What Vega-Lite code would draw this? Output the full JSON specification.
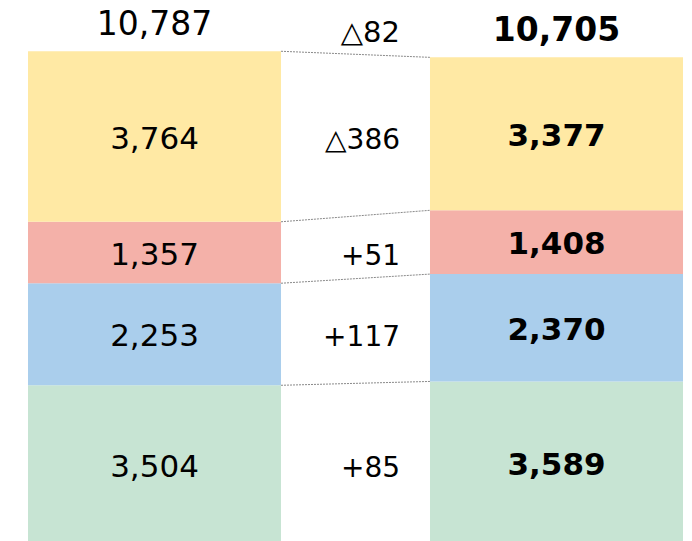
{
  "$schema": "https://vega.github.io/schema/vega-lite/v6.json",
  "width": 692,
  "height": 544,
  "autosize": {"type": "none"},
  "padding": 0,
  "background": "white",
  "config": {"view": {"stroke": null}, "font": "DejaVu Sans"},
  "datasets": {
    "segs": [
      {"period": "before", "seg": "green", "ord": 1, "value": 3504, "delta": "+85"},
      {"period": "before", "seg": "blue", "ord": 2, "value": 2253, "delta": "+117"},
      {"period": "before", "seg": "red", "ord": 3, "value": 1357, "delta": "+51"},
      {"period": "before", "seg": "yellow", "ord": 4, "value": 3764, "delta": "△386"},
      {"period": "after", "seg": "green", "ord": 1, "value": 3589},
      {"period": "after", "seg": "blue", "ord": 2, "value": 2370},
      {"period": "after", "seg": "red", "ord": 3, "value": 1408},
      {"period": "after", "seg": "yellow", "ord": 4, "value": 3377}
    ],
    "totals": [
      {"period": "before", "total": 10787, "tdelta": "△82"},
      {"period": "after", "total": 10705, "tdelta": ""}
    ]
  },
  "layer": [
    {
      "data": {"name": "segs"},
      "mark": {"type": "bar"},
      "encoding": {
        "x": {"field": "period", "type": "nominal", "sort": ["before", "after"], "axis": null,
              "scale": {"type": "band", "domain": ["before", "after"], "paddingInner": 0.3706, "paddingOuter": 0.046, "align": 0.757}},
        "y": {"field": "value", "type": "quantitative", "stack": "zero", "axis": null,
              "scale": {"domain": [0, 12010], "nice": false, "zero": true}},
        "order": {"field": "ord", "type": "quantitative", "sort": "ascending"},
        "color": {"field": "seg", "type": "nominal", "legend": null,
                  "scale": {"domain": ["green", "blue", "red", "yellow"], "range": ["#C7E4D3", "#AACEEC", "#F4B1A9", "#FFE9A4"]}}
      }
    },
    {
      "data": {"name": "segs"},
      "transform": [
        {"stack": "value", "groupby": ["period"], "sort": [{"field": "ord", "order": "ascending"}], "as": ["v0", "v1"]},
        {"pivot": "period", "value": "v1", "groupby": ["seg"]}
      ],
      "mark": {"type": "rule", "color": "#8a8a8a", "strokeWidth": 1, "strokeDash": [2, 1]},
      "encoding": {
        "x": {"datum": "before", "type": "nominal", "bandPosition": 1},
        "x2": {"datum": "after", "bandPosition": 0},
        "y": {"field": "before", "type": "quantitative"},
        "y2": {"field": "after"}
      }
    },
    {
      "data": {"name": "segs"},
      "transform": [{"filter": "datum.period === 'before'"}],
      "mark": {"type": "text", "fontSize": 31, "fontWeight": "normal", "baseline": "middle", "align": "center", "dy": 3, "color": "#000"},
      "encoding": {
        "x": {"field": "period", "type": "nominal"},
        "y": {"field": "value", "type": "quantitative", "stack": "zero", "bandPosition": 0.5},
        "order": {"field": "ord", "type": "quantitative", "sort": "ascending"},
        "text": {"field": "value", "type": "quantitative", "format": ",d"}
      }
    },
    {
      "data": {"name": "segs"},
      "transform": [{"filter": "datum.period === 'after'"}],
      "mark": {"type": "text", "fontSize": 31, "fontWeight": "bold", "baseline": "middle", "align": "center", "dy": 3, "color": "#000"},
      "encoding": {
        "x": {"field": "period", "type": "nominal"},
        "y": {"field": "value", "type": "quantitative", "stack": "zero", "bandPosition": 0.5},
        "order": {"field": "ord", "type": "quantitative", "sort": "ascending"},
        "text": {"field": "value", "type": "quantitative", "format": ",d"}
      }
    },
    {
      "data": {"name": "segs"},
      "transform": [{"filter": "datum.period === 'before'"}],
      "mark": {"type": "text", "fontSize": 28, "baseline": "middle", "align": "right", "dx": 119, "dy": 4, "color": "#000"},
      "encoding": {
        "x": {"field": "period", "type": "nominal", "bandPosition": 1},
        "y": {"field": "value", "type": "quantitative", "stack": "zero", "bandPosition": 0.5},
        "order": {"field": "ord", "type": "quantitative", "sort": "ascending"},
        "text": {"field": "delta", "type": "nominal"}
      }
    },
    {
      "data": {"name": "segs"},
      "transform": [
        {"stack": "value", "groupby": ["period"], "sort": [{"field": "ord", "order": "ascending"}], "as": ["v0", "v1"]},
        {"filter": "datum.seg === 'yellow' && datum.period === 'before'"},
        {"lookup": "period", "from": {"data": {"name": "totals"}, "key": "period", "fields": ["total", "tdelta"]}}
      ],
      "layer": [
        {
          "mark": {"type": "text", "fontSize": 33, "fontWeight": "normal", "baseline": "alphabetic", "align": "center", "dy": -16, "color": "#000"},
          "encoding": {
            "x": {"field": "period", "type": "nominal"},
            "y": {"field": "v1", "type": "quantitative"},
            "text": {"field": "total", "type": "quantitative", "format": ",d"}
          }
        },
        {
          "mark": {"type": "text", "fontSize": 29, "baseline": "alphabetic", "align": "right", "dx": 119, "dy": -9, "color": "#000"},
          "encoding": {
            "x": {"field": "period", "type": "nominal", "bandPosition": 1},
            "y": {"field": "v1", "type": "quantitative"},
            "text": {"field": "tdelta", "type": "nominal"}
          }
        }
      ]
    },
    {
      "data": {"name": "segs"},
      "transform": [
        {"stack": "value", "groupby": ["period"], "sort": [{"field": "ord", "order": "ascending"}], "as": ["v0", "v1"]},
        {"filter": "datum.seg === 'yellow' && datum.period === 'after'"},
        {"lookup": "period", "from": {"data": {"name": "totals"}, "key": "period", "fields": ["total"]}}
      ],
      "mark": {"type": "text", "fontSize": 33, "fontWeight": "bold", "baseline": "alphabetic", "align": "center", "dy": -16, "color": "#000"},
      "encoding": {
        "x": {"field": "period", "type": "nominal"},
        "y": {"field": "v1", "type": "quantitative"},
        "text": {"field": "total", "type": "quantitative", "format": ",d"}
      }
    }
  ]
}
